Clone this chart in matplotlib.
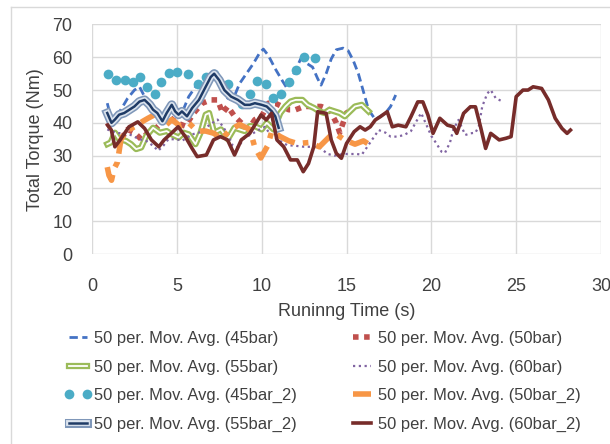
import matplotlib
matplotlib.use("Agg")
import matplotlib.pyplot as plt
import matplotlib.patheffects as pe
from matplotlib.lines import Line2D

plt.rcParams['font.family'] = ['Liberation Sans', 'DejaVu Sans']

# 50 per. moving averages
x_45 = [0.9, 1.0, 1.15, 1.4, 1.7, 2.1, 2.5, 2.8, 3.1, 3.5, 3.9, 4.3, 4.8, 5.3, 5.7, 6.1, 6.5, 6.9, 7.2,
        7.6, 8.0, 8.3, 8.7, 9.1, 9.5, 9.9, 10.1, 10.4, 10.8, 11.2, 11.5, 11.9, 12.3, 12.7, 13.0, 13.3,
        13.5, 13.8, 14.1, 14.4, 14.8, 15.1, 15.4, 15.7, 16.0, 16.3, 16.7, 17.0, 17.3, 17.6, 17.9]
y_45 = [46, 44, 40.5, 42, 44, 47.5, 50, 51, 48, 45, 42, 42, 44, 43, 48, 51, 53, 54, 55,
        51, 47.5, 47, 52, 55, 58, 61.5, 62.5, 60.5, 56.5, 53, 50.5, 55, 59.5, 58, 57, 53.5,
        51.5, 55, 59.5, 62.3, 62.8, 62, 59, 55, 49.5, 44, 41, 42, 43, 45, 48.5]

x_50 = [0.9, 1.3, 1.7, 2.1, 2.5, 2.9, 3.3, 3.7, 4.1, 4.5, 5.0, 5.5, 6.0, 6.5, 7.0, 7.4, 7.7, 8.0, 8.4,
        8.8, 9.2, 9.6, 10.0, 10.4, 10.8, 11.2, 11.6, 12.0, 12.5, 13.0, 13.5, 14.0, 14.4, 14.6, 14.8,
        15.0, 15.3]
y_50 = [40, 37, 35, 38, 37, 35, 37, 38, 40, 42, 40, 39, 43, 46, 47, 47, 43, 45, 42,
        40, 38, 41, 42, 46, 46, 45, 44, 44, 45, 45, 45, 44, 40, 37, 40,
        43, 44]

x_55 = [0.9, 1.1, 1.35, 1.6, 2.0, 2.3, 2.6, 2.9, 3.2, 3.6, 4.0, 4.4, 4.7, 5.1, 5.4, 5.7, 6.1, 6.4,
        6.7, 6.9, 7.2, 7.6, 8.0, 8.4, 8.7, 9.0, 9.3, 9.6, 10.0, 10.3, 10.7, 11.1, 11.4, 11.7, 12.0,
        12.4, 12.7, 13.1, 13.4, 13.7, 14.0, 14.3, 14.6, 14.9, 15.2, 15.5, 15.9, 16.3]
y_55 = [33.5, 34, 37, 35, 34.5, 33.5, 32, 32.5, 36, 38.5, 37, 37.5, 36.5, 35.5, 37, 36.5, 33.5, 37,
        42.5, 43, 37, 38, 35, 38.5, 38, 37.5, 39, 39, 38, 40, 38, 43, 45, 46.5, 47,
        47, 45.5, 44.5, 43.5, 43, 44, 43.5, 43, 42, 43.5, 45, 45.5, 43.5]

x_60 = [0.9, 1.4, 2.2, 2.8, 3.2, 3.6, 3.9, 4.2, 4.5, 5.0, 5.3, 5.9, 6.3, 6.7, 7.1, 7.4, 7.7, 8.0,
        8.3, 8.6, 9.0, 9.4, 9.8, 10.2, 10.5, 11.0, 11.5, 12.0, 12.5, 13.0, 13.4, 13.9, 14.3, 14.8,
        15.2, 15.6, 15.9, 16.2, 16.5, 16.9, 17.3, 17.6, 18.0, 18.4, 18.8, 19.1, 19.4, 19.7, 20.0,
        20.3, 20.6, 20.8, 21.1, 21.3, 21.6, 22.0, 22.3, 22.6, 22.8, 23.0, 23.3, 23.5, 23.8, 24.2]
y_60 = [38, 37, 36.5, 35, 34.5, 33, 31.5, 33, 35, 35, 34.5, 36.5, 37, 38.5, 40, 41, 39, 36.5,
        33, 32.5, 35.5, 36.5, 37.8, 38.8, 36.5, 34.8, 33.2, 33, 32.7, 32.7, 32.5, 30.5, 30, 30.5,
        30.5, 30.5, 30.3, 32.5, 34.8, 37.8, 37, 35.8, 35.8, 36.3, 37.5, 40.3, 43, 39.5, 36,
        33.7, 31.2, 30.8, 34, 38, 40.9, 36.3, 36.8, 37, 39, 45, 49, 50, 47.5, 46.5]

x_45_2 = [0.93, 1.41, 1.93, 2.39, 2.84, 3.22, 3.69, 4.09, 4.56, 5.02, 5.66, 6.22, 6.74, 7.22, 7.99,
          8.86, 9.34, 9.75, 10.27, 10.64, 11.16, 11.62, 12.03, 12.51, 13.17]
y_45_2 = [54.9, 53.0, 53.0, 52.5, 54.1, 50.8, 48.7, 52.5, 55.3, 55.5, 54.9, 52.0, 53.9, 54.9, 52.0,
          45.9, 48.7, 52.7, 52.0, 47.7, 48.7, 52.5, 56.1, 60.0, 59.7]

x_50_2 = [0.9, 1.0, 1.15, 1.3, 1.5, 1.7, 2.0, 2.5, 3.0, 3.3, 3.7, 4.0, 4.3, 4.7, 5.2, 5.7, 6.2, 6.7,
          7.2, 7.6, 8.2, 8.7, 9.3, 9.6, 9.95, 10.35, 10.6, 11.1, 11.6, 12.1, 12.8, 13.4, 14.0, 14.3,
          14.9, 15.5, 16.0, 16.4, 16.7]
y_50_2 = [26.5, 24, 22.5, 26, 28, 34.8, 37.5, 38.8, 40.5, 41.4, 42.5, 43.9, 39, 41, 39, 40, 37.5, 37.5,
          36.8, 35, 38, 39.5, 38, 32.5, 29.3, 33, 37.5, 35.8, 34.5, 33.7, 34, 32.7, 35.8, 36.8,
          34.8, 33.5, 34.5, 33.2, 33.5]

x_55_2 = [0.9, 1.15, 1.35, 1.6, 1.9, 2.2, 2.5, 2.8, 3.1, 3.4, 3.6, 3.85, 4.15, 4.4, 4.7, 4.9, 5.1,
          5.3, 5.6, 5.9, 6.3, 6.7, 7.0, 7.2, 7.5, 7.8, 8.2, 8.6, 9.0, 9.3, 9.6, 10.0, 10.3, 10.6,
          10.8, 11.0]
y_55_2 = [43, 40, 41, 42.5, 43, 44, 45, 46.5, 47, 45.5, 44, 43, 40.5, 43, 45.5, 43.5, 42.5,
          43.5, 42, 44.5, 47, 51, 54, 55, 53, 50, 48, 47, 45.5, 45.5, 46, 45.5, 45, 43.5,
          42, 38.5]

x_60_2 = [0.93, 1.14, 1.35, 1.66, 2.18, 2.7, 3.1, 3.5, 3.94, 4.25, 4.67, 5.08, 5.5, 5.9, 6.2, 6.74,
          7.16, 7.57, 7.99, 8.4, 8.8, 9.3, 9.65, 9.96, 10.27, 10.58, 10.9, 11.3, 11.7, 12.1, 12.45,
          12.76, 13.07, 13.3, 13.8, 14.1, 14.4, 14.7, 15.0, 15.45, 15.8, 16.1, 16.4, 16.7, 17.0,
          17.4, 17.7, 18.05, 18.5, 18.8, 19.2, 19.5, 19.8, 20.1, 20.5, 20.95, 21.3, 21.5, 21.9,
          22.3, 22.6, 22.9, 23.2, 23.5, 24.0, 24.4, 24.7, 25.0, 25.4, 25.7, 26.0, 26.5, 26.9,
          27.3, 27.7, 28.0, 28.2]
y_60_2 = [39.3, 37.8, 32.7, 34.8, 38.8, 40.3, 38.3, 34.8, 32.7, 34.8, 36.8, 38.8, 35.8, 32.2, 29.7,
          30.2, 34.8, 35.8, 34.8, 30.2, 34.8, 36.8, 39.8, 42.4, 40.9, 42.9, 34.8, 32.7, 28.7, 28.7,
          25.1, 27.6, 32.7, 43.4, 42.9, 34.8, 30.7, 29.2, 33.7, 37.3, 38.8, 37.8, 38.8, 40.9, 41.9,
          43.4, 38.8, 39.3, 38.8, 41.9, 46.4, 46.4, 42.4, 36.8, 41.4, 39.3, 38.8, 36.8, 42.9,
          44.9, 44.9, 38.8, 32.2, 36.8, 34.8, 35.3, 35.8, 48, 50, 50, 51, 50.5, 47,
          41.4, 38.3, 36.8, 37.8]

labels = ['50 per. Mov. Avg. (45bar)', '50 per. Mov. Avg. (50bar)', '50 per. Mov. Avg. (55bar)',
          '50 per. Mov. Avg. (60bar)', '50 per. Mov. Avg. (45bar_2)', '50 per. Mov. Avg. (50bar_2)',
          '50 per. Mov. Avg. (55bar_2)', '50 per. Mov. Avg. (60bar_2)']

fig = plt.figure(figsize=(6.1, 4.44), dpi=100)
ax = fig.add_axes([92 / 610, 1 - 254 / 444, 509 / 610, 229.5 / 444])

l45, = ax.plot(x_45, y_45, color='#4472C4', lw=2, ls=(0, (3, 1.6)), label=labels[0])
l50, = ax.plot(x_50, y_50, color='#C0504D', lw=4, ls=(0, (1, 1)), label=labels[1])
l55, = ax.plot(x_55, y_55, color='white', lw=1.3, label=labels[2],
               path_effects=[pe.Stroke(linewidth=4.5, foreground='#9BBB59'), pe.Normal()])
l60, = ax.plot(x_60, y_60, color='#8064A2', lw=1.6, ls=(0, (1, 1.6)), label=labels[3])
l45b, = ax.plot(x_45_2, y_45_2, color='#4BACC6', ls='none', marker='o', ms=7, mec='none',
                label=labels[4])
l50b, = ax.plot(x_50_2, y_50_2, color='#F79646', lw=4, ls=(0, (3.5, 1.5, 1, 1.5)), label=labels[5])
l55b, = ax.plot(x_55_2, y_55_2, color='#1F3B66', lw=1.8, label=labels[6],
                path_effects=[pe.Stroke(linewidth=6.5, foreground='#7F97B9'),
                              pe.Stroke(linewidth=4.2, foreground='#DCE4EE'), pe.Normal()])
l60b, = ax.plot(x_60_2, y_60_2, color='#772C2A', lw=2.6, label=labels[7])

ax.set_xlim(0, 30)
ax.set_ylim(0, 70)
ax.set_xticks(range(0, 31, 5))
ax.set_yticks(range(0, 71, 10))
ax.grid(True, color='#D9D9D9', lw=1)
ax.set_axisbelow(True)
for s in ax.spines.values():
    s.set_visible(False)
ax.tick_params(length=0, labelsize=13, colors='#404040', pad=14)
ax.tick_params(axis='x', pad=17)
ax.set_xlabel('Runinng Time (s)', fontsize=13, color='#404040')
ax.set_ylabel('Total Torque (Nm)', fontsize=13, color='#404040')
ax.xaxis.set_label_coords(0.5, -0.215)
ax.yaxis.set_label_coords(-0.095, 0.5)

# chart area border (left and top)
fig.add_artist(Line2D([11 / 610, 11 / 610], [0, 1 - 7 / 444], color='#D9D9D9', lw=1))
fig.add_artist(Line2D([11 / 610, 1], [1 - 7 / 444, 1 - 7 / 444], color='#D9D9D9', lw=1))

leg_kw = dict(loc='upper left', frameon=False, fontsize=11.9, borderpad=0, borderaxespad=0,
              handlelength=1.7, handletextpad=0.1, labelspacing=0.82, numpoints=2)
leg1 = fig.legend([l45, l55, l45b, l55b], [labels[0], labels[2], labels[4], labels[6]],
                  bbox_to_anchor=(64 / 610, 1 - 331 / 444), **leg_kw)
leg2 = fig.legend([l50, l60, l50b, l60b], [labels[1], labels[3], labels[5], labels[7]],
                  bbox_to_anchor=(348 / 610, 1 - 331 / 444), **leg_kw)
for leg in (leg1, leg2):
    for t in leg.get_texts():
        t.set_color('#404040')

fig.savefig('out.png', dpi=100)
